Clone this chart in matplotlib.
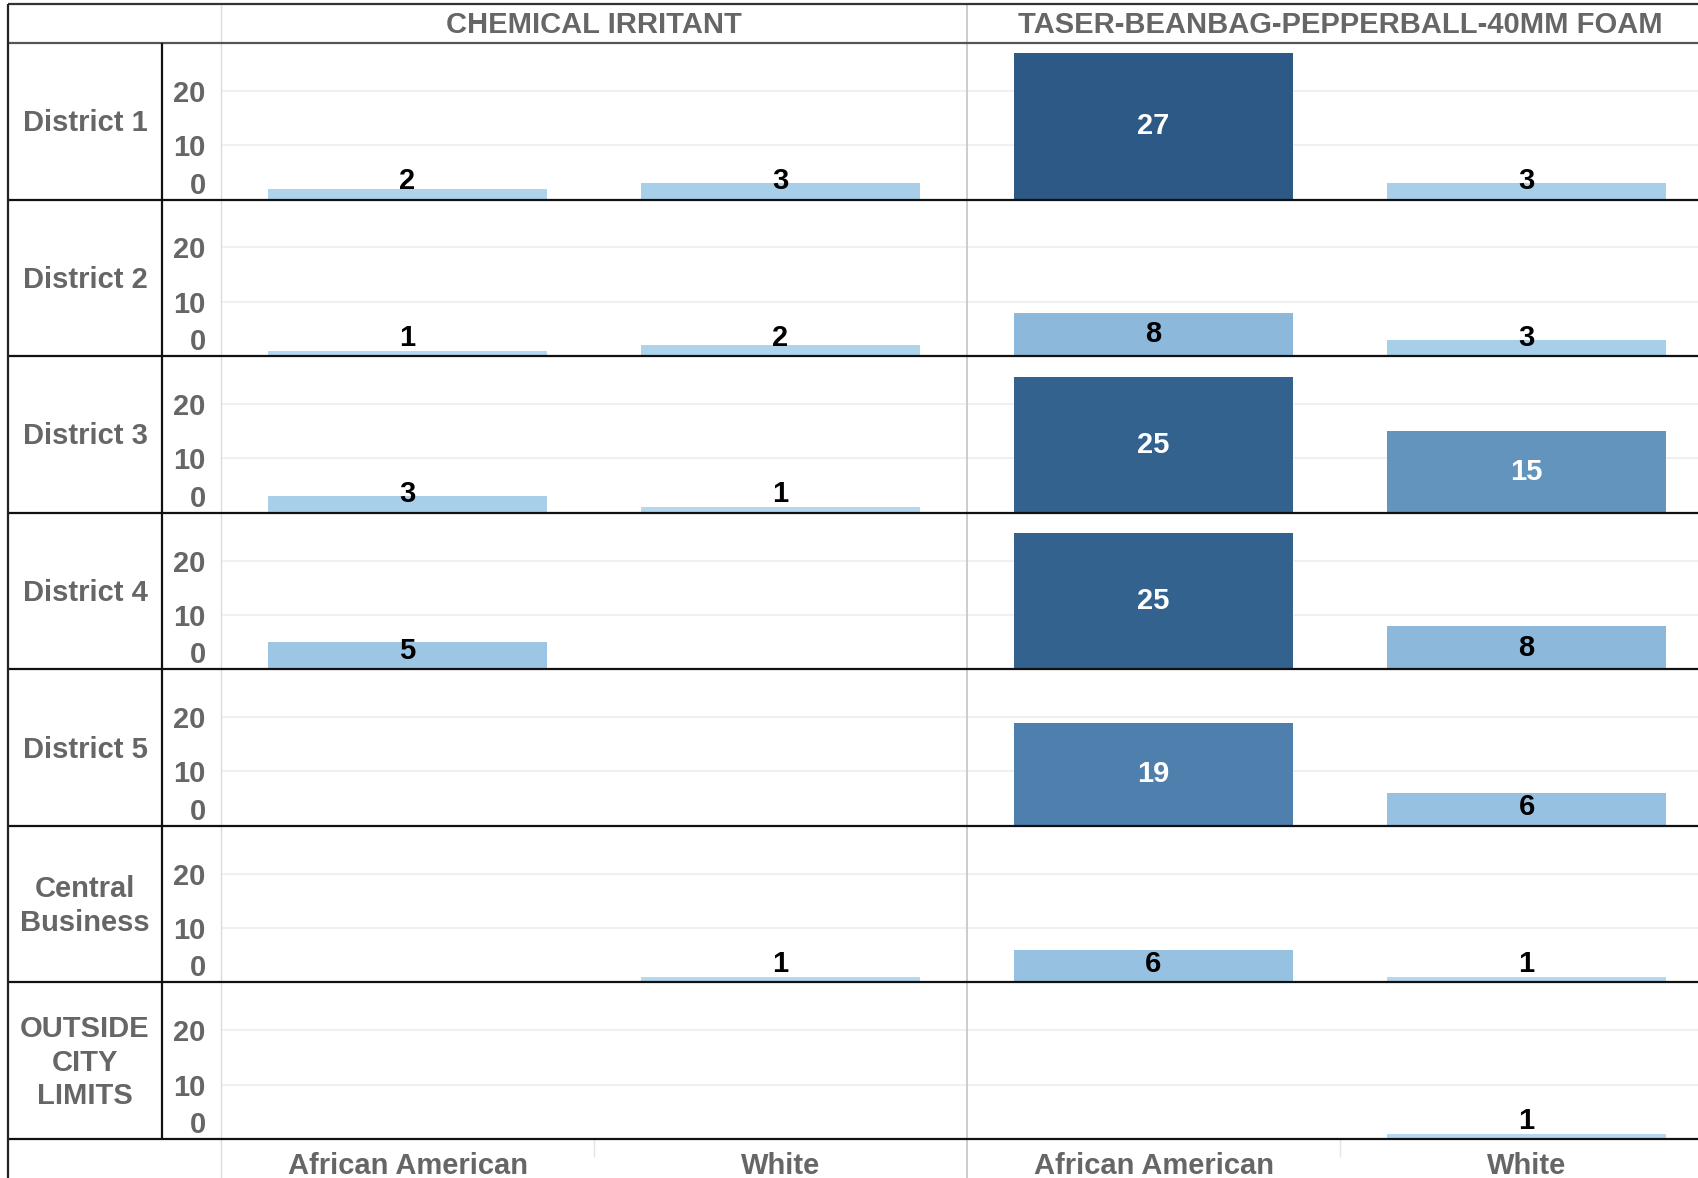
import numpy as np
import matplotlib
matplotlib.use("Agg")
import matplotlib.pyplot as plt
from matplotlib.colors import LinearSegmentedColormap, Normalize

# ---------------------------------------------------------------------------
# Data (NaN = no bar)
# ---------------------------------------------------------------------------
districts = ["District 1", "District 2", "District 3", "District 4",
             "District 5", "Central\nBusiness", "OUTSIDE\nCITY\nLIMITS"]
weapons = ["CHEMICAL IRRITANT", "TASER-BEANBAG-PEPPERBALL-40MM FOAM"]
races = ["African American", "White"]

chem_aa = [2, 1, 3, 5, np.nan, np.nan, np.nan]
chem_white = [3, 2, 1, np.nan, np.nan, 1, np.nan]
taser_aa = [27, 8, 25, 25, 19, 6, np.nan]
taser_white = [3, 3, 15, 8, 6, 1, 1]

yticks = [0, 10, 20]

values = [[chem_aa, chem_white], [taser_aa, taser_white]]

# ---------------------------------------------------------------------------
# Layout (pixels)
# ---------------------------------------------------------------------------
W, H = 1698, 1178
plt.rcParams["font.family"] = ["Liberation Sans", "DejaVu Sans"]
plt.rcParams["font.weight"] = "bold"

LABEL_GRAY = "#666666"
FS = 21

x_left = 8
x_div = 162
x_plot = 221
col_w = 746
y_top = 4
y_head = 43
y_bot = 1139
row_h = (y_bot - y_head) / len(districts)

cmap = LinearSegmentedColormap.from_list(
    "tab_blue",
    [(0.0, "#b3d8ef"), (0.27, "#8cb8db"), (0.54, "#6294bd"),
     (0.69, "#4f80ae"), (1.0, "#2c5985")])
norm = Normalize(vmin=1, vmax=27)

fig = plt.figure(figsize=(W / 100, H / 100), dpi=100)
fig.patch.set_facecolor("white")


def rect(x0, y0, w, h):
    return [x0 / W, 1 - (y0 + h) / H, w / W, h / H]


for i, name in enumerate(districts):
    top = y_head + i * row_h
    for j in range(2):
        ax = fig.add_axes(rect(x_plot + j * col_w, top, col_w, row_h))
        ax.set_xlim(-0.5, 1.5)
        ax.set_ylim(0, 28.8)
        for s in ax.spines.values():
            s.set_visible(False)
        ax.set_yticks(yticks)
        ax.yaxis.grid(True, color="#eeeeee", lw=1.2)
        ax.set_axisbelow(True)
        ax.tick_params(length=0)
        if j == 0:
            ax.set_yticklabels([str(t) for t in yticks], fontsize=FS,
                               color=LABEL_GRAY, fontweight="bold")
            ax.tick_params(axis="y", pad=11)
            ax.get_yticklabels()[0].set_va("bottom")
        else:
            ax.set_yticklabels([])
        ax.set_xticks([0, 1])
        if i == len(districts) - 1:
            ax.set_xticklabels(races, fontsize=FS, color=LABEL_GRAY,
                               fontweight="bold")
            ax.tick_params(axis="x", pad=9)
        else:
            ax.set_xticklabels([])

        for k in range(2):
            v = values[j][k][i]
            if np.isnan(v):
                continue
            ax.bar(k, v, width=0.75, color=cmap(norm(v)), zorder=2)
            ty = max(v / 2, 3.4)
            tc = "white" if v >= 15 else "black"
            ax.text(k, ty, f"{int(v)}", ha="center", va="center",
                    fontsize=FS, fontweight="bold", color=tc, zorder=3)

        if i == 0:
            ax.annotate(weapons[j], xy=(0.5, 1), xycoords="axes fraction",
                        xytext=(0, 18), textcoords="offset pixels",
                        ha="center", va="center", fontsize=FS,
                        fontweight="bold", color=LABEL_GRAY,
                        annotation_clip=False)

# ---------------------------------------------------------------------------
# Table frame and row labels
# ---------------------------------------------------------------------------
ov = fig.add_axes([0, 0, 1, 1], zorder=10)
ov.set_xlim(0, W)
ov.set_ylim(H, 0)
ov.axis("off")
ov.patch.set_alpha(0)

ov.vlines(x_plot, y_top, H, color="#dcdcdc", lw=1)
ov.vlines(x_plot + col_w, y_top, H, color="#c4c4c4", lw=1.2)
for j in range(2):
    ov.vlines(x_plot + j * col_w + col_w / 2, y_bot, y_bot + 18,
              color="#e4e4e4", lw=1)
ov.hlines(y_top, x_left, W, color="#333333", lw=1.6)
ov.hlines(y_head, x_left, W, color="#555555", lw=1.6)
for i in range(len(districts)):
    ov.hlines(y_head + (i + 1) * row_h, x_left, W, color="#111111", lw=1.6)
ov.vlines(x_left, y_top, H, color="#222222", lw=1.6)
ov.vlines(x_div, y_head, y_bot, color="#111111", lw=1.6)

for i, name in enumerate(districts):
    cy = y_head + (i + 0.5) * row_h + 2
    ov.text((x_left + x_div) / 2, cy, name, ha="center", va="center",
            fontsize=FS, fontweight="bold", color=LABEL_GRAY,
            linespacing=1.25)

fig.savefig("out.png", dpi=100, facecolor="white")
